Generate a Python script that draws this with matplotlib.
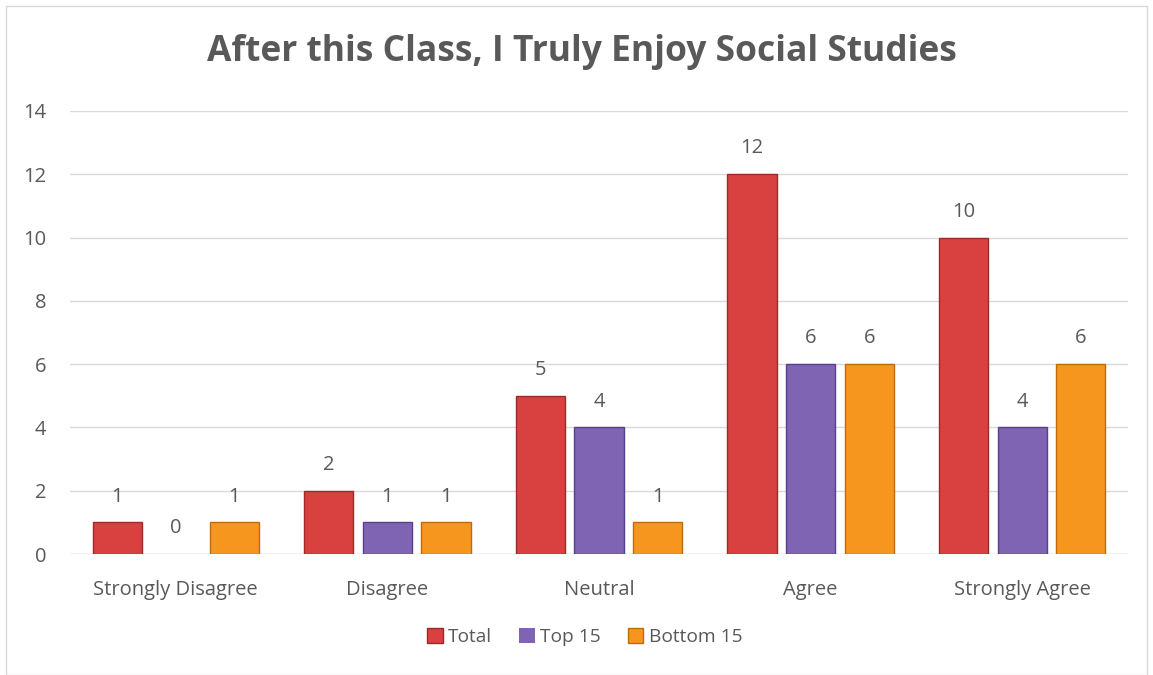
import matplotlib
matplotlib.use("Agg")
import matplotlib.pyplot as plt
import numpy as np

categories = ["Strongly Disagree", "Disagree", "Neutral", "Agree", "Strongly Agree"]
series_names = ["Total", "Top 15", "Bottom 15"]
total = [1, 2, 5, 12, 10]
top15 = [0, 1, 4, 6, 4]
bottom15 = [1, 1, 1, 6, 6]
yticks = [0, 2, 4, 6, 8, 10, 12, 14]

colors = ["#D94141", "#8064B4", "#F7961E"]
edges = ["#A02828", "#5A3F8A", "#C06A0C"]
text_color = "#595959"

plt.rcParams['font.family'] = ['Open Sans', 'DejaVu Sans']

fig = plt.figure(figsize=(11.53, 6.75), dpi=100)
ax = fig.add_axes([70/1153, 1-554/675, 1058/1153, (554-111)/675])

x = np.arange(len(categories))
w = 0.232
step = 0.277
for i, (vals, c, e, name) in enumerate(zip([total, top15, bottom15], colors, edges, series_names)):
    pos = x + (i-1)*step
    lws = [1.0 if v > 0 else 0.0 for v in vals]
    ax.bar(pos, vals, width=w, color=c, edgecolor=e, linewidth=lws, label=name, zorder=3)
    for p, v in zip(pos, vals):
        ax.text(p, v + 0.5, str(v), ha='center', va='bottom', fontsize=14.5, color=text_color)

ax.set_xlim(-0.5, len(categories)-0.5)
ax.set_ylim(0, 14)
ax.set_yticks(yticks)
ax.set_yticklabels([str(t) for t in yticks], fontsize=14.5, color=text_color)
ax.set_xticks(x)
ax.set_xticklabels(categories, fontsize=14.5, color=text_color)
ax.tick_params(axis='x', length=0, pad=19)
ax.tick_params(axis='y', length=0, pad=17)
ax.grid(axis='y', color='#D9D9D9', linewidth=1.0, zorder=0)
for s in ax.spines.values():
    s.set_visible(False)
ax.axhline(0, color='#D9D9D9', linewidth=1.0, zorder=1)

fig.text(582/1153, 1-52/675, "After this Class, I Truly Enjoy Social Studies",
         ha='center', va='center', fontsize=25.5, fontweight='bold', color=text_color)

leg = fig.legend(loc='center', bbox_to_anchor=(585/1153, 1-637/675), ncol=3, frameon=False,
                 fontsize=13.8, handlelength=0.8, handleheight=0.8, handletextpad=0.3,
                 columnspacing=1.4)
for t in leg.get_texts():
    t.set_color(text_color)

fig.patches.append(plt.Rectangle((6/1153, 0), 1-12/1153, 1-6/675, transform=fig.transFigure,
                                 fill=False, edgecolor='#D9D9D9', linewidth=1.0))

fig.savefig("out.png", dpi=100)
